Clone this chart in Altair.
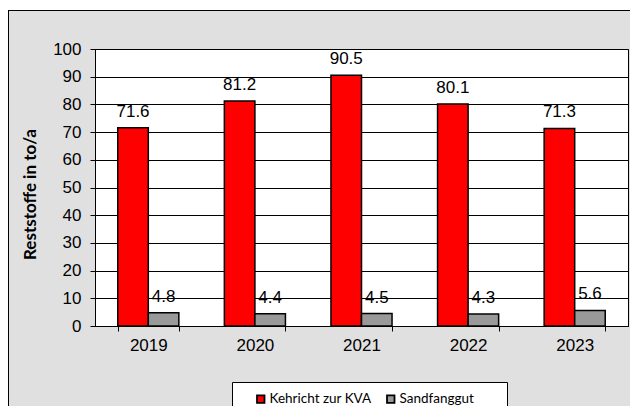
import altair as alt
import pandas as pd

years = ["2019", "2020", "2021", "2022", "2023"]
kehricht = [71.6, 81.2, 90.5, 80.1, 71.3]
sand = [4.8, 4.4, 4.5, 4.3, 5.6]
series = ["Kehricht zur KVA", "Sandfanggut"]
colors = ["#ff0000", "#999999"]
y_ticks = list(range(0, 101, 10))
y_title = "Reststoffe in to/a"

rows = []
for i, yr in enumerate(years):
    rows.append({"Jahr": yr, "Serie": series[0], "Wert": kehricht[i]})
    rows.append({"Jahr": yr, "Serie": series[1], "Wert": sand[i]})
df = pd.DataFrame(rows)
df["Label"] = df["Wert"].map(lambda v: f"{v:.1f}")

W, H = 533, 277
PAD = {"left": 87, "top": 41, "right": 2, "bottom": 80}
AXFONT = "Liberation Sans"

x_enc = alt.X(
    "Jahr:N", sort=years,
    scale=alt.Scale(paddingInner=0.427, paddingOuter=0.2135),
    axis=alt.Axis(title=None, labelAngle=0, tickBand="extent", grid=False,
                  labelFont=AXFONT, labelFontSize=17, labelColor="black",
                  labelPadding=6, tickSize=5, tickColor="black",
                  domainColor="black"),
)
xo_enc = alt.XOffset("Serie:N", sort=series,
                     scale=alt.Scale(paddingInner=0, paddingOuter=0))
y_enc = alt.Y(
    "Wert:Q",
    scale=alt.Scale(domain=[0, 100], nice=False),
    axis=alt.Axis(values=y_ticks, title=y_title, titleFont="Lato",
                  titleFontWeight="bold", titleFontSize=17, titleColor="black",
                  titleAngle=-90, titleX=-65, titleY=145, titleAlign="center",
                  titleBaseline="middle",
                  labelFont=AXFONT, labelFontSize=17, labelColor="black",
                  labelPadding=9, tickSize=5, tickColor="black",
                  domainColor="black", gridColor="black", gridWidth=1),
)

base = alt.Chart(df)

bars = base.mark_bar(stroke="black", strokeWidth=1.5).encode(
    x=x_enc, xOffset=xo_enc, y=y_enc,
    color=alt.Color("Serie:N", sort=series,
                    scale=alt.Scale(domain=series, range=colors),
                    legend=alt.Legend(title=None, orient="none", legendX=159,
                                      legendY=343, direction="horizontal",
                                      symbolType="square", symbolSize=56,
                                      symbolStrokeColor="black",
                                      symbolStrokeWidth=1.8, symbolOpacity=1,
                                      labelFont="Lato", labelFontSize=13.5,
                                      labelColor="black", labelOffset=2,
                                      columnPadding=11, padding=0)),
)

labels = base.mark_text(baseline="alphabetic", dy=-11, font=AXFONT,
                        fontSize=17, color="black").encode(
    x=x_enc, xOffset=xo_enc, y=y_enc, text="Label:N",
)

one = alt.Data(values=[{}])
top_strip = alt.Chart(one).mark_rect(fill="white").encode(
    x=alt.value(-87), x2=alt.value(W + PAD["right"]), y=alt.value(-41),
    y2=alt.value(-39))
top_line = alt.Chart(one).mark_rule(color="black", strokeWidth=1).encode(
    x=alt.value(-87), x2=alt.value(W + PAD["right"]), y=alt.value(-38.5))
left_line = alt.Chart(one).mark_rule(color="black", strokeWidth=1).encode(
    x=alt.value(-86.5), y=alt.value(-39), y2=alt.value(H + PAD["bottom"]))
legend_box = alt.Chart(one).mark_rect(fill="white", stroke="black",
                                      strokeWidth=1).encode(
    x=alt.value(137.5), x2=alt.value(412.5), y=alt.value(333.5),
    y2=alt.value(380))

chart = alt.layer(top_strip, top_line, left_line, legend_box, bars, labels).properties(
    width=W, height=H,
    padding=PAD,
    autosize="none",
    background="#e0e0e0",
).configure_view(stroke="black", strokeWidth=1, fill="white")

chart.save("out.html", embed_options={"renderer": "svg", "actions": False})
